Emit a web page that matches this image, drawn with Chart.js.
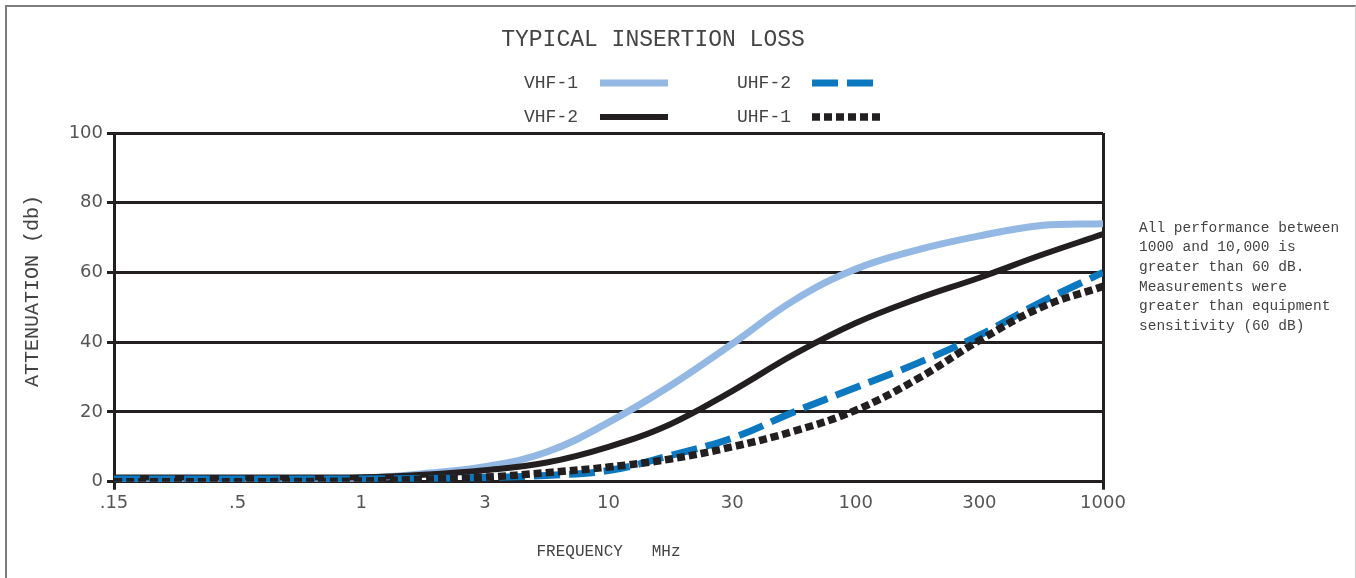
<!DOCTYPE html>
<html>
<head>
<meta charset="utf-8">
<script src="https://cdn.jsdelivr.net/npm/chart.js@4"></script>
<style>
  html, body { margin: 0; padding: 0; background: #fff; overflow: hidden; }
  #wrap { position: relative; width: 1356px; height: 578px; }
  #frame { position: absolute; left: 5px; top: 5px; width: 1348px; height: 600px;
           border-left: 2px solid #7d7d7d; border-top: 2px solid #7d7d7d; border-right: 1px solid #cfcfcf;
           pointer-events: none; }
</style>
</head>
<body>
<div id="wrap"><canvas id="loss"></canvas><div id="frame"></div></div>
<script>
// frequency ticks are evenly spaced, so x is the tick index
const freqLabels = ['.15', '.5', '1', '3', '10', '30', '100', '300', '1000'];
const xPos = [0, 1, 2, 2.5, 3, 3.5, 4, 4.5, 5, 5.5, 6, 6.5, 7, 7.5, 8];

const vhf1 = [0.2, 0.2, 1.0, 2.3, 4.3, 8.5, 17, 27.5, 39.5, 52, 61, 66.5, 70.5, 73.5, 74];
const vhf2 = [1.2, 1.2, 1.3, 2.0, 3.3, 5.5, 10, 16.5, 26, 36.5, 45.5, 52.5, 58.5, 65, 71];
const uhf2 = [0.8, 0.8, 0.8, 0.9, 1.2, 1.8, 3.2, 7.5, 12.5, 20, 27, 34, 42, 51.5, 60];
const uhf1 = [0, 0, 0.2, 0.7, 1.3, 2.6, 4.2, 6.5, 10, 14.5, 20.5, 29.5, 40.5, 50, 56];

const chartTitle = 'TYPICAL INSERTION LOSS';
const yTitle = 'ATTENUATION (db)';
const xTitle = 'FREQUENCY   MHz';
const noteLines = [
    'All performance between',
    '1000 and 10,000 is',
    'greater than 60 dB.',
    'Measurements were',
    'greater than equipment',
    'sensitivity (60 dB)'
];

const ink = '#231f20';
const textCol = '#444';
const mono = '"Liberation Mono", monospace';
const sans = '"DejaVu Sans", sans-serif';

const toPoints = ys => ys.map((y, i) => ({x: xPos[i], y: y}));

// legend is a 2x2 block: label text then a sample of the line
const legendSlots = [
    {ds: 0, tx: 524, lx: 600, y: 83},
    {ds: 2, tx: 737, lx: 812, y: 83},
    {ds: 1, tx: 524, lx: 600, y: 117},
    {ds: 3, tx: 737, lx: 812, y: 117}
];

const decorations = {
    id: 'decorations',
    afterDraw(chart) {
        const ctx = chart.ctx;
        ctx.save();
        ctx.fillStyle = textCol;
        ctx.textBaseline = 'middle';

        ctx.font = '23px ' + mono;
        ctx.textAlign = 'center';
        ctx.fillText(chartTitle, 653, 40);

        ctx.font = '18px ' + mono;
        ctx.textAlign = 'left';
        legendSlots.forEach(slot => {
            const ds = chart.data.datasets[slot.ds];
            ctx.fillStyle = textCol;
            ctx.fillText(ds.label, slot.tx, slot.y);
            ctx.beginPath();
            ctx.strokeStyle = ds.borderColor;
            ctx.lineWidth = ds.borderWidth;
            ctx.lineCap = 'butt';
            ctx.setLineDash(ds.borderDash || []);
            ctx.moveTo(slot.lx, slot.y);
            ctx.lineTo(slot.lx + 68, slot.y);
            ctx.stroke();
        });
        ctx.setLineDash([]);

        ctx.font = '14.5px ' + mono;
        ctx.fillStyle = textCol;
        noteLines.forEach((line, i) => ctx.fillText(line, 1139, 228 + i * 19.6));

        ctx.translate(33, 291);
        ctx.rotate(-Math.PI / 2);
        ctx.font = '20px ' + mono;
        ctx.textAlign = 'center';
        ctx.fillText(yTitle, 0, 0);
        ctx.restore();
    }
};

const common = {pointRadius: 0, fill: false, tension: 0.4, borderCapStyle: 'butt'};

new Chart(document.getElementById('loss'), {
    type: 'line',
    plugins: [decorations],
    data: {
        datasets: [
            {...common, label: 'VHF-1', data: toPoints(vhf1), borderColor: '#94b8e4', borderWidth: 7, order: 4},
            {...common, label: 'VHF-2', data: toPoints(vhf2), borderColor: ink, borderWidth: 6, order: 3},
            {...common, label: 'UHF-2', data: toPoints(uhf2), borderColor: '#0b78c0', borderWidth: 7, borderDash: [26, 9], order: 2},
            {...common, label: 'UHF-1', data: toPoints(uhf1), borderColor: ink, borderWidth: 7.5, borderDash: [8, 4], order: 1}
        ]
    },
    options: {
        responsive: true,
        maintainAspectRatio: false,
        animation: false,
        layout: {padding: {top: 133, right: 253, bottom: 0, left: 0}},
        plugins: {legend: {display: false}, title: {display: false}, tooltip: {enabled: false}},
        scales: {
            x: {
                type: 'linear', min: 0, max: 8,
                afterBuildTicks: s => { s.ticks = freqLabels.map((_, i) => ({value: i})); },
                afterFit: s => { s.height = 96.3; },
                ticks: {
                    callback: v => freqLabels[v],
                    font: {family: sans, size: 18}, color: '#555', padding: 3,
                    maxRotation: 0, autoSkip: false
                },
                grid: {
                    color: c => (c.index === 0 || c.index === freqLabels.length - 1) ? ink : 'rgba(0,0,0,0)',
                    lineWidth: 3, tickLength: 8
                },
                border: {color: ink, width: 3},
                title: {display: true, text: xTitle, font: {family: mono, size: 16}, color: textCol, padding: {top: 0, bottom: 17}}
            },
            y: {
                min: 0, max: 100,
                afterFit: s => { s.width = 114; },
                ticks: {stepSize: 20, font: {family: sans, size: 18}, color: '#555', padding: 4},
                grid: {color: ink, lineWidth: 3, tickLength: 7},
                border: {color: ink, width: 3}
            }
        }
    }
});
</script>
</body>
</html>
